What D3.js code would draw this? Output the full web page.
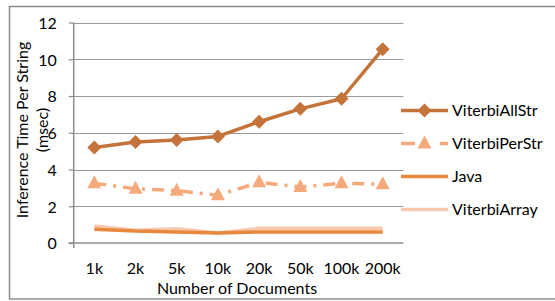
<html>
<head>
  <meta charset="utf-8">
  <script src="https://cdn.jsdelivr.net/npm/d3@7"></script>
  <style>
    body { margin: 0; background: #fff; }
    text { font-family: Lato, "Open Sans", sans-serif; fill: #000; }
  </style>
</head>
<body>
<svg id="chart" width="555" height="301"></svg>
<script>
  var categories = ["1k", "2k", "5k", "10k", "20k", "50k", "100k", "200k"];
  var viterbiAllStr = [5.2, 5.5, 5.6, 5.8, 6.6, 7.3, 7.85, 10.55];
  var viterbiPerStr = [3.25, 2.95, 2.85, 2.6, 3.3, 3.05, 3.25, 3.2];
  var java = [0.75, 0.65, 0.6, 0.55, 0.6, 0.6, 0.6, 0.6];
  var viterbiArray = [0.93, 0.7, 0.78, 0.55, 0.8, 0.8, 0.8, 0.8];
  var yTicks = [0, 2, 4, 6, 8, 10, 12];

  var series = [
    { name: "ViterbiAllStr", values: viterbiAllStr, color: "#c4733a", dash: null, marker: "diamond" },
    { name: "ViterbiPerStr", values: viterbiPerStr, color: "#f5aa7c", dash: "12,7,3,7", marker: "triangle" },
    { name: "Java", values: java, color: "#e8883c", dash: null, marker: null },
    { name: "ViterbiArray", values: viterbiArray, color: "#f8c9ae", dash: null, marker: null }
  ];
  // draw order: light ones under
  var drawOrder = [3, 2, 1, 0];

  var svg = d3.select("#chart");

  // outer frame
  svg.append("rect")
    .attr("x", 9.5).attr("y", 6.5)
    .attr("width", 560).attr("height", 292.5)
    .attr("fill", "none").attr("stroke", "#8c8c8c").attr("stroke-width", 1.5);

  var plotLeft = 73.7, plotRight = 403.3, plotTop = 22.5, plotBottom = 243;

  var x = d3.scaleBand().domain(categories).range([plotLeft, plotRight]);
  var y = d3.scaleLinear().domain([0, 12]).range([plotBottom, plotTop]);

  // gridlines
  svg.append("g").selectAll("line").data(yTicks.filter(function(d) { return d > 0; }))
    .enter().append("line")
    .attr("x1", plotLeft).attr("x2", plotRight)
    .attr("y1", function(d) { return Math.round(y(d)) + 0.5; })
    .attr("y2", function(d) { return Math.round(y(d)) + 0.5; })
    .attr("stroke", "#9a9a9a").attr("stroke-width", 1.2);

  // y axis
  var yAxis = d3.axisLeft(y).tickValues(yTicks).tickSize(5).tickPadding(12);
  var gy = svg.append("g").attr("transform", "translate(" + plotLeft + ",0)").call(yAxis);
  gy.select(".domain").attr("stroke", "#8c8c8c").attr("stroke-width", 1.5).attr("d", "M0," + plotTop + "V" + plotBottom);
  gy.selectAll(".tick line").attr("stroke", "#8c8c8c").attr("stroke-width", 1.2);
  gy.selectAll(".tick text").style("font-size", "16px").attr("dy", "0.36em").attr("font-family", null);

  // x axis
  var xAxis = d3.axisBottom(x).tickSize(0).tickPadding(20);
  var gx = svg.append("g").attr("transform", "translate(0," + plotBottom + ")").call(xAxis);
  gx.select(".domain").attr("stroke", "#8c8c8c").attr("stroke-width", 1.5).attr("d", "M" + (plotLeft - 5) + ",0H" + plotRight);
  gx.append("line").attr("x1", plotLeft).attr("x2", plotLeft).attr("y1", 0).attr("y2", 5)
    .attr("stroke", "#8c8c8c").attr("stroke-width", 1.5);
  gx.selectAll(".tick text").style("font-size", "16px").attr("fill", "#000");
  gx.attr("font-family", null).attr("font-size", null);
  gy.attr("font-family", null).attr("font-size", null);

  // axis titles
  svg.append("text")
    .attr("x", 237).attr("y", 294)
    .attr("text-anchor", "middle").style("font-size", "16px")
    .text("Number of Documents");
  var yt = svg.append("text")
    .attr("transform", "translate(28,130) rotate(-90)")
    .attr("text-anchor", "middle").style("font-size", "16px");
  yt.append("tspan").attr("x", 0).attr("dy", 0).text("Inference Time Per String");
  yt.append("tspan").attr("x", 0).attr("dy", 20).text("(msec)");

  var line = d3.line()
    .x(function(d, i) { return x(categories[i]) + x.bandwidth() / 2; })
    .y(function(d) { return y(d); });

  function drawMarker(g, type, cx, cy, color) {
    if (type === "diamond") {
      g.append("path").attr("d", "M0,-7L7,0L0,7L-7,0Z")
        .attr("transform", "translate(" + cx + "," + cy + ")").attr("fill", color);
    } else if (type === "triangle") {
      g.append("path").attr("d", "M0,-8L7,5L-7,5Z")
        .attr("transform", "translate(" + cx + "," + cy + ")").attr("fill", color);
    }
  }

  drawOrder.forEach(function(k) {
    var s = series[k];
    var g = svg.append("g");
    g.append("path").datum(s.values)
      .attr("d", line)
      .attr("fill", "none")
      .attr("stroke", s.color)
      .attr("stroke-width", 3.5)
      .attr("stroke-linejoin", "round")
      .attr("stroke-dasharray", s.dash);
    s.values.forEach(function(v, i) {
      drawMarker(g, s.marker, x(categories[i]) + x.bandwidth() / 2, y(v), s.color);
    });
  });

  // legend
  var legendY = [110.5, 143.5, 176.5, 209.5];
  series.forEach(function(s, i) {
    var g = svg.append("g").attr("transform", "translate(0," + legendY[i] + ")");
    if (s.dash) {
      g.append("line").attr("x1", 401).attr("x2", 415).attr("y1", 0).attr("y2", 0)
        .attr("stroke", s.color).attr("stroke-width", 3.5);
      g.append("line").attr("x1", 440).attr("x2", 448).attr("y1", 0).attr("y2", 0)
        .attr("stroke", s.color).attr("stroke-width", 3.5);
    } else {
      g.append("line").attr("x1", 401).attr("x2", 448).attr("y1", 0).attr("y2", 0)
        .attr("stroke", s.color).attr("stroke-width", 3.5);
    }
    drawMarker(g, s.marker, 424.5, 0, s.color);
    g.append("text").attr("x", 452).attr("y", 0).attr("dy", "0.36em")
      .style("font-size", "16px").text(s.name);
  });
</script>
</body>
</html>
